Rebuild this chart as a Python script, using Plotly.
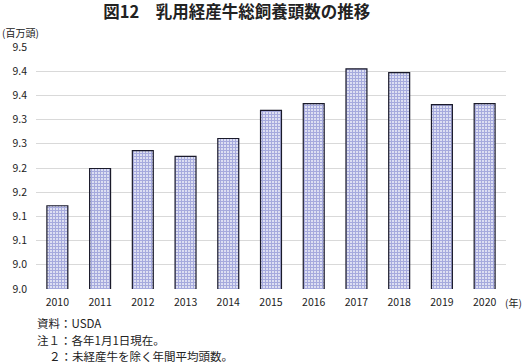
import plotly.graph_objects as go

years = ["2010", "2011", "2012", "2013", "2014", "2015", "2016", "2017", "2018", "2019", "2020"]
cows = [9.172, 9.249, 9.286, 9.274, 9.311, 9.369, 9.383, 9.455, 9.447, 9.381, 9.383]
ytickvals = [9.0, 9.05, 9.1, 9.15, 9.2, 9.25, 9.3, 9.35, 9.4, 9.45, 9.5]
yticktext = ["9.0", "9.0", "9.1", "9.1", "9.2", "9.2", "9.3", "9.3", "9.4", "9.4", "9.5"]

FONT = "Noto Sans CJK JP"
L, R, T, B = 36, 18, 47, 75
W, H = 524, 364

fig = go.Figure()
fig.add_trace(go.Bar(
    x=years, y=cows,
    width=0.49,
    marker=dict(
        color="white",
        line=dict(color="#1a1a2a", width=1.2),
        pattern=dict(shape="+", fgcolor="#4d55bb", bgcolor="white", size=3, solidity=0.7),
    ),
))

fig.update_layout(
    width=W, height=H,
    margin=dict(l=L, r=R, t=T, b=B, autoexpand=False),
    paper_bgcolor="white", plot_bgcolor="white",
    font=dict(family=FONT, size=10.5, color="#222222"),
    showlegend=False,
    bargap=0.51,
    title=dict(text="<b>図12　乳用経産牛総飼養頭数の推移</b>", x=0.452, xanchor="center",
               y=1 - 12 / H, yanchor="middle", font=dict(family=FONT, size=16.5, color="#222222")),
    xaxis=dict(showgrid=False, showline=False, ticks="", tickfont=dict(size=10.5),
               ticklabelstandoff=5, automargin=False),
    yaxis=dict(range=[9.0, 9.5], tickvals=ytickvals, ticktext=yticktext,
               showgrid=True, gridcolor="#d9d9d9", gridwidth=1, zeroline=False,
               showline=False, ticks="", ticklabelstandoff=8, tickfont=dict(size=10.5),
               automargin=False),
)

annots = [
    dict(text="(百万頭)", x=0, y=33, xanchor="left", size=10),
    dict(text="(年)", x=503, y=302, xanchor="left", size=10),
    dict(text="資料：USDA", x=35, y=323, xanchor="left", size=11.5),
    dict(text="注１：各年1月1日現在。", x=35, y=340, xanchor="left", size=11.5),
    dict(text="２：未経産牛を除く年間平均頭数。", x=47, y=356, xanchor="left", size=11.5),
]
for a in annots:
    fig.add_annotation(
        text=a["text"], xref="paper", yref="paper",
        x=(a["x"] - L) / (W - L - R),
        y=1 - (a["y"] - T) / (H - T - B),
        xanchor=a["xanchor"], yanchor="middle", showarrow=False,
        font=dict(family=FONT, size=a["size"], color="#222222"),
    )

fig.write_html("out.html", config={"displayModeBar": False},
               post_script="document.body.style.margin='0';document.body.style.padding='0';document.body.style.overflow='hidden';")
